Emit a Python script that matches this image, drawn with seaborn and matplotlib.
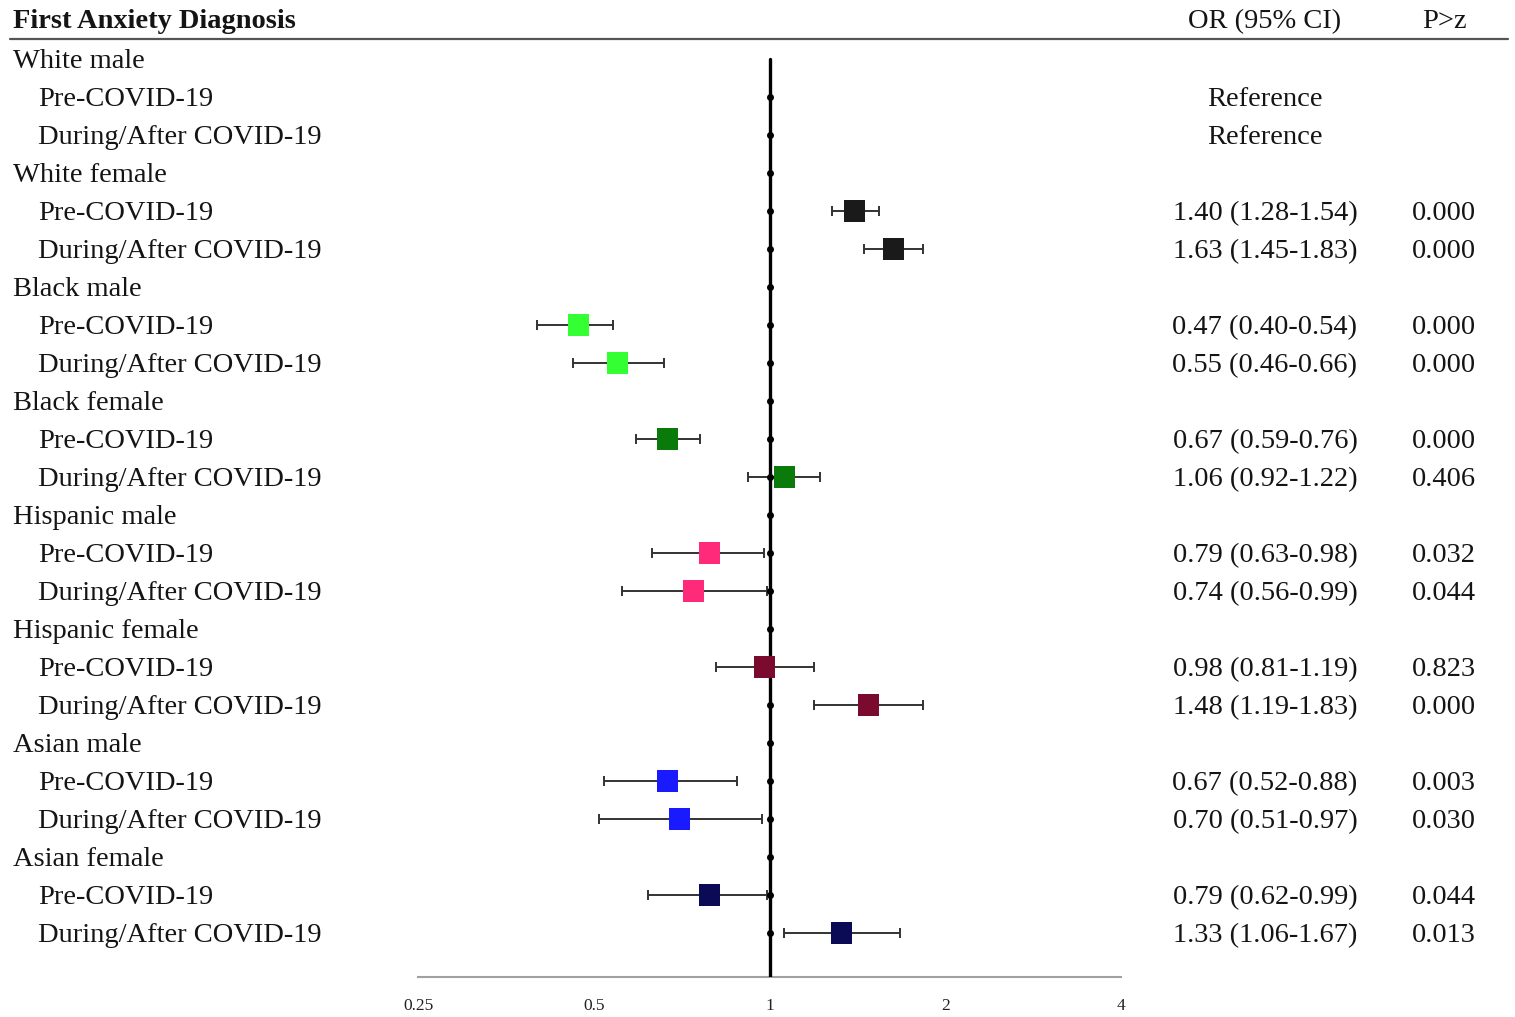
import numpy as np
import pandas as pd
import matplotlib
matplotlib.use("Agg")
import matplotlib.pyplot as plt
import matplotlib.transforms as mtransforms
import seaborn as sns

# ---------------- data ----------------
groups = ["White male", "White female", "Black male", "Black female",
          "Hispanic male", "Hispanic female", "Asian male", "Asian female"]
periods = ["Pre-COVID-19", "During/After COVID-19"]
group_colors = ["#1a1a1a", "#1a1a1a", "#33ff33", "#0a7a0a",
                "#ff2a7a", "#7a0a2e", "#1a1aff", "#0a0a55"]

or_vals = [np.nan, np.nan, 1.40, 1.63, 0.47, 0.55, 0.67, 1.06,
           0.79, 0.74, 0.98, 1.48, 0.67, 0.70, 0.79, 1.33]
ci_low = [np.nan, np.nan, 1.28, 1.45, 0.40, 0.46, 0.59, 0.92,
          0.63, 0.56, 0.81, 1.19, 0.52, 0.51, 0.62, 1.06]
ci_high = [np.nan, np.nan, 1.54, 1.83, 0.54, 0.66, 0.76, 1.22,
           0.98, 0.99, 1.19, 1.83, 0.88, 0.97, 0.99, 1.67]
or_text = ["Reference", "Reference", "1.40 (1.28-1.54)", "1.63 (1.45-1.83)",
           "0.47 (0.40-0.54)", "0.55 (0.46-0.66)", "0.67 (0.59-0.76)", "1.06 (0.92-1.22)",
           "0.79 (0.63-0.98)", "0.74 (0.56-0.99)", "0.98 (0.81-1.19)", "1.48 (1.19-1.83)",
           "0.67 (0.52-0.88)", "0.70 (0.51-0.97)", "0.79 (0.62-0.99)", "1.33 (1.06-1.67)"]
p_text = ["", "", "0.000", "0.000", "0.000", "0.000", "0.000", "0.406",
          "0.032", "0.044", "0.823", "0.000", "0.003", "0.030", "0.044", "0.013"]
x_ticks = [0.25, 0.5, 1, 2, 4]
x_ticklabels = ["0.25", "0.5", "1", "2", "4"]

# ---------------- layout helpers ----------------
W, H = 1515, 1017
def fx(px):
    return px / W
def fy(py):
    return 1 - py / H

rows = []
k = 0
for gi, g in enumerate(groups):
    rows.append(dict(kind="group", label=g, idx=None))
    for p in periods:
        rows.append(dict(kind="sub", label=p, idx=k, group=g, color=group_colors[gi]))
        k += 1
for i, r in enumerate(rows):
    r["y"] = i

recs = []
for r in rows:
    if r["kind"] == "sub" and not np.isnan(or_vals[r["idx"]]):
        recs.append(dict(y=r["y"], OR=or_vals[r["idx"]], lo=ci_low[r["idx"]],
                         hi=ci_high[r["idx"]], group=r["group"]))
df = pd.DataFrame(recs)

sns.set_theme(style="white")
plt.rcParams["font.family"] = ["Liberation Serif", "DejaVu Serif"]

fig = plt.figure(figsize=(W / 100, H / 100), dpi=100)
fig.patch.set_facecolor("white")

ax_left, ax_right = 418, 1121
ax_top, ax_bot = 40, 977
ax = fig.add_axes([fx(ax_left), fy(ax_bot), fx(ax_right) - fx(ax_left),
                   (ax_bot - ax_top) / H])
row_top_px, row_step = 59, 38
y_bottom = (ax_bot - row_top_px) / row_step
y_top = (ax_top - row_top_px) / row_step

ax.set_xscale("log", base=2)
ax.set_xlim(0.25, 4)
ax.set_ylim(y_bottom, y_top)

ax.errorbar(df["OR"], df["y"],
            xerr=[df["OR"] - df["lo"], df["hi"] - df["OR"]],
            fmt="none", ecolor="#333333", elinewidth=1.4, capsize=3.5,
            capthick=1.4, zorder=2)

ax.plot([1, 1], [0, y_bottom], color="black", lw=2.4, zorder=3)
ax.plot([1] * (len(rows) - 1), list(range(1, len(rows))), "o",
        color="black", markersize=4, zorder=3)

palette = {g: c for g, c in zip(groups, group_colors)}
sns.scatterplot(data=df, x="OR", y="y", hue="group", palette=palette,
                marker="s", s=230, edgecolor=None, linewidth=0,
                legend=False, ax=ax, zorder=4)

for sp in ["top", "right", "left"]:
    ax.spines[sp].set_visible(False)
ax.spines["bottom"].set_color("#a0a0a0")
ax.spines["bottom"].set_linewidth(1.5)
ax.set_xticks(x_ticks)
ax.set_xticklabels(x_ticklabels)
ax.minorticks_off()
ax.tick_params(axis="x", length=3, color="#a0a0a0", labelsize=12.5, pad=12,
               labelcolor="#222222")
ax.set_yticks([])
ax.set_xlabel("")
ax.set_ylabel("")
ax.patch.set_alpha(0)

# ---------------- text ----------------
fs = 20.5
tcol = "#141414"
dy = 0.06  # small downward nudge so text centres on the rows
trans = mtransforms.blended_transform_factory(fig.transFigure, ax.transData)

fig.text(fx(13), fy(22), "First Anxiety Diagnosis", fontsize=fs, fontweight="bold",
         color=tcol, va="center", ha="left")
fig.text(fx(1265), fy(22), "OR (95% CI)", fontsize=fs, color=tcol, va="center", ha="center")
fig.text(fx(1444), fy(22), "P>z", fontsize=fs, color=tcol, va="center", ha="center")
fig.add_artist(plt.Line2D([fx(10), fx(1508)], [fy(39), fy(39)], color="#555555", lw=1.6))

for r in rows:
    yy = r["y"] + dy
    if r["kind"] == "group":
        ax.text(fx(13), yy, r["label"], transform=trans, fontsize=fs,
                color=tcol, va="center", ha="left", clip_on=False)
    else:
        ax.text(fx(38), yy, r["label"], transform=trans, fontsize=fs,
                color=tcol, va="center", ha="left", clip_on=False)
        ax.text(fx(1265), yy, or_text[r["idx"]], transform=trans, fontsize=fs,
                color=tcol, va="center", ha="center", clip_on=False)
        ax.text(fx(1444), yy, p_text[r["idx"]], transform=trans, fontsize=fs,
                color=tcol, va="center", ha="center", clip_on=False)

fig.savefig("out.png", dpi=100, facecolor="white")
